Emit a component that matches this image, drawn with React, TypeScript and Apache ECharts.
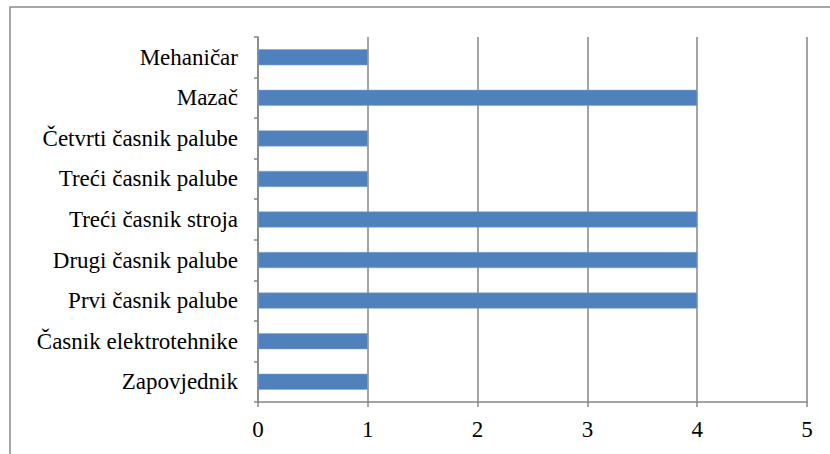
import React, { useEffect, useRef } from "react";
import * as echarts from "echarts";

const categories = [
  "Zapovjednik",
  "Časnik elektrotehnike",
  "Prvi časnik palube",
  "Drugi časnik palube",
  "Treći časnik stroja",
  "Treći časnik palube",
  "Četvrti časnik palube",
  "Mazač",
  "Mehaničar",
];
const values = [1, 1, 4, 4, 4, 1, 1, 4, 1];

export default function App() {
  const ref = useRef<HTMLDivElement>(null);
  useEffect(() => {
    if (!ref.current) return;
    const chart = echarts.init(ref.current, null, { renderer: "svg" });
    const font = "'Liberation Serif', 'Times New Roman', serif";
    chart.setOption({
      animation: false,
      backgroundColor: "#ffffff",
      graphic: [
        {
          type: "rect",
          shape: { x: 10, y: 7, width: 840, height: 470 },
          style: { fill: "none", stroke: "#8a8a8a", lineWidth: 1.5 },
          silent: true,
        },
      ],
      grid: { left: 258, right: 23, top: 37, bottom: 52, containLabel: false },
      xAxis: {
        type: "value",
        min: 0,
        max: 5,
        interval: 1,
        axisLine: { show: true, lineStyle: { color: "#868686", width: 1.5 } },
        axisTick: { show: true, length: 5, lineStyle: { color: "#868686", width: 1.5 } },
        splitLine: { show: true, lineStyle: { color: "#868686", width: 1.5 } },
        axisLabel: { color: "#000", fontFamily: font, fontSize: 23, margin: 16 },
      },
      yAxis: {
        type: "category",
        data: categories,
        axisLine: { show: true, lineStyle: { color: "#868686", width: 1.5 } },
        axisTick: { show: true, length: 4, lineStyle: { color: "#868686", width: 1.5 } },
        axisLabel: { color: "#000", fontFamily: font, fontSize: 23, margin: 20 },
      },
      series: [
        {
          type: "bar",
          data: values,
          barWidth: 16,
          itemStyle: { color: "#4F81BD", borderColor: "#7fa3d1", borderWidth: 0.5 },
        },
      ],
    });
    return () => chart.dispose();
  }, []);
  return (
    <div
      ref={ref}
      style={{ position: "absolute", left: 0, top: 0, width: 830, height: 454 }}
    />
  );
}
